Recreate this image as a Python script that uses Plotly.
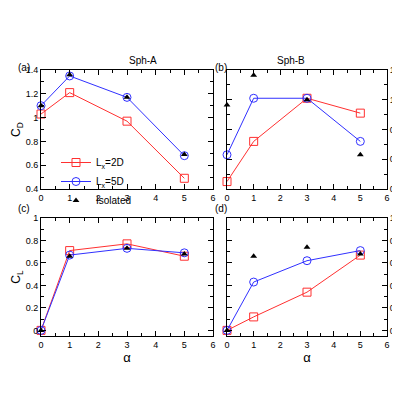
import plotly.graph_objects as go

alpha = [0, 1, 3, 5]
cd_a_2d = [1.03, 1.21, 0.97, 0.49]
cd_a_5d = [1.10, 1.35, 1.17, 0.68]
cd_a_iso = [1.10, 1.36, 1.17, 0.69]
cd_b_2d = [0.45, 0.72, 1.01, 0.91]
cd_b_5d = [0.63, 1.01, 1.01, 0.72]
cd_b_iso = [0.965, 1.165, 1.00, 0.63]
cl_a_2d = [0.0, 0.71, 0.77, 0.66]
cl_a_5d = [0.0, 0.67, 0.73, 0.69]
cl_a_iso = [0.0, 0.66, 0.73, 0.68]
cl_b_2d = [0.0, 0.12, 0.34, 0.67]
cl_b_5d = [0.0, 0.43, 0.62, 0.71]
cl_b_iso = [0.0, 0.66, 0.74, 0.68]

W = 400.0
dom = {
    "a": ([33 / W, 205 / W], [1 - 181 / W, 1 - 62 / W]),
    "b": ([219 / W, 379 / W], [1 - 181 / W, 1 - 62 / W]),
    "c": ([33 / W, 205 / W], [1 - 328 / W, 1 - 210 / W]),
    "d": ([219 / W, 379 / W], [1 - 328 / W, 1 - 210 / W]),
}
panels = [
    ("a", "x", "y", cd_a_2d, cd_a_5d, cd_a_iso),
    ("b", "x2", "y2", cd_b_2d, cd_b_5d, cd_b_iso),
    ("c", "x3", "y3", cl_a_2d, cl_a_5d, cl_a_iso),
    ("d", "x4", "y4", cl_b_2d, cl_b_5d, cl_b_iso),
]

fig = go.Figure()
for name, xa, ya, s2, s5, iso in panels:
    first = name == "a"
    fig.add_trace(go.Scatter(x=alpha, y=s2, xaxis=xa, yaxis=ya, mode="lines+markers",
                             name="L<sub>x</sub>=2D", showlegend=first, cliponaxis=False,
                             line=dict(color="#ff3030", width=1),
                             marker=dict(symbol="square-open", size=8, color="#ff3030")))
    fig.add_trace(go.Scatter(x=alpha, y=s5, xaxis=xa, yaxis=ya, mode="lines+markers",
                             name="L<sub>x</sub>=5D", showlegend=first, cliponaxis=False,
                             line=dict(color="#3030ff", width=1),
                             marker=dict(symbol="circle-open", size=8, color="#3030ff")))
    fig.add_trace(go.Scatter(x=alpha, y=iso, xaxis=xa, yaxis=ya, mode="markers",
                             name="Isolated", showlegend=first, cliponaxis=False,
                             marker=dict(symbol="triangle-up", size=6, color="black")))

ax_common = dict(showline=True, linecolor="black", mirror="ticks", ticks="inside",
                 ticklen=5, tickcolor="black", showgrid=False, zeroline=False,
                 automargin=False, tickfont=dict(size=9))
layout = {}
for i, (name, xa, ya, *_r) in enumerate(panels):
    sx = "" if i == 0 else str(i + 1)
    xd, yd = dom[name]
    rng = {"a": [0.4, 1.4], "b": [0.4, 1.2]}.get(name, [-0.05, 1.0])
    layout["xaxis" + sx] = dict(ax_common, domain=xd, anchor="y" + sx, range=[0, 6], dtick=1,
                                minor=dict(ticks="inside", ticklen=3, tickcolor="black", dtick=0.5))
    layout["yaxis" + sx] = dict(ax_common, domain=yd, anchor="x" + sx, range=rng, dtick=0.2,
                                tick0=0, side="left" if name in ("a", "c") else "right",
                                minor=dict(ticks="inside", ticklen=3, tickcolor="black", dtick=0.1))
layout["xaxis3"]["title"] = dict(text="α", font=dict(size=13), standoff=4)
layout["xaxis4"]["title"] = dict(text="α", font=dict(size=13), standoff=4)
layout["yaxis"]["title"] = dict(text="C<sub>D</sub>", font=dict(size=12), standoff=2)
layout["yaxis3"]["title"] = dict(text="C<sub>L</sub>", font=dict(size=12), standoff=2)

fig.update_layout(**layout)
fig.update_layout(
    width=400, height=400, margin=dict(l=0, r=0, t=0, b=0),
    paper_bgcolor="white", plot_bgcolor="white",
    font=dict(family="Liberation Sans, Arial", size=10, color="black"),
    showlegend=True,
    legend=dict(x=48 / W, y=1 - 140 / W, xanchor="left", yanchor="top", bgcolor="rgba(0,0,0,0)",
                font=dict(size=10), tracegroupgap=0, itemwidth=30),
)
for txt, x, y in [("(a)", 8, 52), ("(b)", 205, 52), ("(c)", 8, 200), ("(d)", 205, 200)]:
    fig.add_annotation(text=txt, x=x / W, y=1 - y / W, xref="paper", yref="paper",
                       showarrow=False, xanchor="left", font=dict(size=10))
fig.add_annotation(text="Sph-A", x=119 / W, y=1 - 45 / W, xref="paper", yref="paper",
                   showarrow=False, font=dict(size=10))
fig.add_annotation(text="Sph-B", x=299 / W, y=1 - 45 / W, xref="paper", yref="paper",
                   showarrow=False, font=dict(size=10))
fig.write_html("out.html")
